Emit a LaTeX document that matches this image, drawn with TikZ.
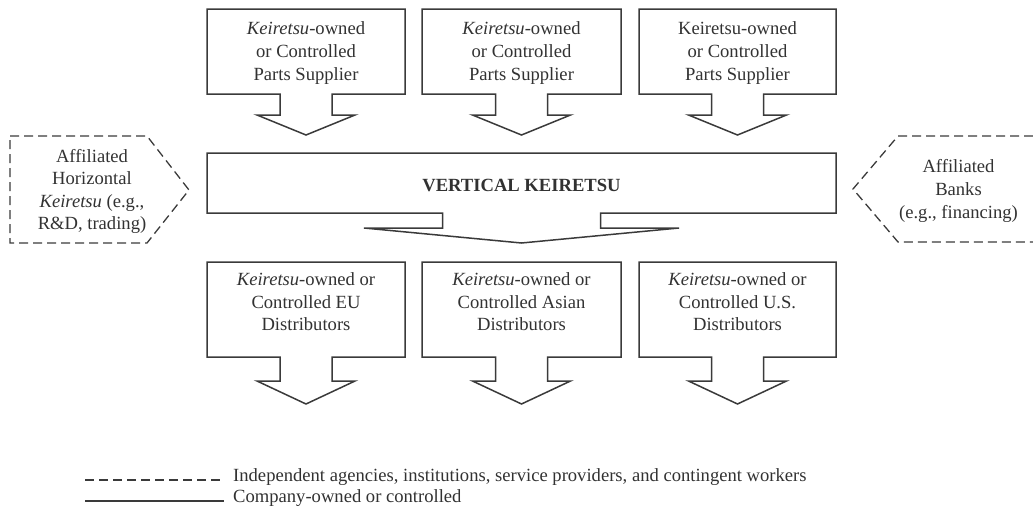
\documentclass[tikz,border=0pt]{standalone}
\usepackage{fontspec}
\setmainfont{Liberation Serif}
\definecolor{inkgray}{RGB}{58,58,58}
\definecolor{textgray}{RGB}{50,50,50}
% Box with a block arrow hanging from its bottom edge:
% #1 left, #2 right, #3 top, #4 bottom, #5 stem half-width,
% #6 y of the arrow shoulders, #7 y of the tip, #8 head half-width
\newcommand\blockarrow[8]{%
  \pgfmathsetmacro\bac{(#1+#2)/2}%
  \draw[outline] (#1,#3) -- (#2,#3) -- (#2,#4) -- (\bac+#5,#4) -- (\bac+#5,#6)
    -- (\bac+#8,#6) -- (\bac,#7) -- (\bac-#8,#6) -- (\bac-#5,#6)
    -- (\bac-#5,#4) -- (#1,#4) -- cycle;}
\begin{document}
\begin{tikzpicture}[x=1pt,y=-1pt,
  outline/.style={draw=inkgray,line width=1.5pt,line join=miter},
  dashedline/.style={draw=inkgray,line width=1.3pt,dash pattern=on 9pt off 5pt},
  boxtext/.style={text=textgray,align=center,inner sep=0pt,
    font=\fontsize{18.6}{22.6}\selectfont},
]
\useasboundingbox (0,0) rectangle (1033,506);

% supplier boxes
\blockarrow{207}{405}{9}{94}{26}{115}{135}{49}
\blockarrow{422}{621}{9}{94}{26}{115}{135}{49}
\blockarrow{639}{836}{9}{94}{26}{115}{135}{49}
\node[boxtext] (sup1) at (306,53) {\textit{Keiretsu}-owned\\or Controlled\\Parts Supplier};
\node[boxtext] (sup2) at (521.5,53) {\textit{Keiretsu}-owned\\or Controlled\\Parts Supplier};
\node[boxtext] (sup3) at (737.5,53) {Keiretsu-owned\\or Controlled\\Parts Supplier};

% central company
\blockarrow{207}{836}{153}{213}{79}{228}{243}{157.5}
\node[boxtext,font=\fontsize{18.6}{22.6}\selectfont\bfseries] (vk) at (521.5,185) {VERTICAL KEIRETSU};

% distributor boxes
\blockarrow{207}{405}{262}{357}{26}{381}{404}{49}
\blockarrow{422}{621}{262}{357}{26}{381}{404}{49}
\blockarrow{639}{836}{262}{357}{26}{381}{404}{49}
\node[boxtext] (dis1) at (306,302) {\textit{Keiretsu}-owned or\\Controlled EU\\Distributors};
\node[boxtext] (dis2) at (521.5,302) {\textit{Keiretsu}-owned or\\Controlled Asian\\Distributors};
\node[boxtext] (dis3) at (737.5,302) {\textit{Keiretsu}-owned or\\Controlled U.S.\\Distributors};

% affiliated partners (dashed)
\draw[dashedline] (10,136) -- (147,136) -- (189,190) -- (147,243) -- (10,243) -- cycle;
\node[boxtext] (horiz) at (92,191.5) {Affiliated\\Horizontal\\\textit{Keiretsu} (e.g.,\\R\&D, trading)};
\draw[dashedline] (1033,136) -- (898,136) -- (853,189) -- (898,242) -- (1033,242);
\node[boxtext] (banks) at (958.5,191) {Affiliated\\Banks\\(e.g., financing)};

% legend
\coordinate (dashA) at (85,480);
\coordinate (dashB) at (224,480);
\coordinate (solidA) at (85,501);
\coordinate (solidB) at (224,501);
\draw[dashedline,line width=1.1pt] (dashA) -- (dashB);
\draw[outline,line width=1.1pt] (solidA) -- (solidB);
\node[boxtext,anchor=base west] (legdash) at (233,481) {Independent agencies, institutions, service providers, and contingent workers};
\node[boxtext,anchor=base west] (legsolid) at (233,502) {Company-owned or controlled};
\end{tikzpicture}
\end{document}
